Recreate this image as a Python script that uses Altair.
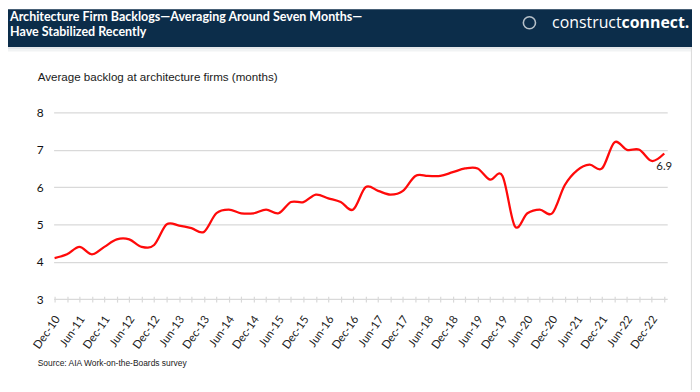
import json
import altair as alt
import pandas as pd

# ---- data ----
quarters = [
    "Dec-10", "Mar-11", "Jun-11", "Sep-11", "Dec-11", "Mar-12", "Jun-12", "Sep-12",
    "Dec-12", "Mar-13", "Jun-13", "Sep-13", "Dec-13", "Mar-14", "Jun-14", "Sep-14",
    "Dec-14", "Mar-15", "Jun-15", "Sep-15", "Dec-15", "Mar-16", "Jun-16", "Sep-16",
    "Dec-16", "Mar-17", "Jun-17", "Sep-17", "Dec-17", "Mar-18", "Jun-18", "Sep-18",
    "Dec-18", "Mar-19", "Jun-19", "Sep-19", "Dec-19", "Mar-20", "Jun-20", "Sep-20",
    "Dec-20", "Mar-21", "Jun-21", "Sep-21", "Dec-21", "Mar-22", "Jun-22", "Sep-22",
    "Dec-22", "Mar-23",
]
backlog = [
    4.1, 4.2, 4.4, 4.2, 4.4, 4.6, 4.6, 4.4,
    4.45, 5.0, 4.97, 4.9, 4.8, 5.3, 5.4, 5.3,
    5.3, 5.4, 5.3, 5.6, 5.6, 5.8, 5.7, 5.6,
    5.4, 6.0, 5.9, 5.8, 5.9, 6.3, 6.3, 6.3,
    6.4, 6.5, 6.5, 6.2, 6.3, 4.95, 5.3, 5.4,
    5.3, 6.05, 6.45, 6.6, 6.5, 7.2, 7.0, 7.0,
    6.7, 6.9,
]
y_ticks = [3, 4, 5, 6, 7, 8]

title_lines = ["Architecture Firm Backlogs\u2014Averaging Around Seven Months\u2014",
               "Have Stabilized Recently"]
axis_title = "Average backlog at architecture firms (months)"
source_text = "Source: AIA Work-on-the-Boards survey"

df = pd.DataFrame({"i": list(range(len(quarters))), "quarter": quarters, "backlog": backlog})
one = alt.Data(values=[{"k": 1}])

NAVY = "#0c2d4a"
GRID = "#d9d9d9"
TITLE_FONT = "Lato"

label_expr = "(datum.value % 2 == 0) ? " + json.dumps(quarters) + "[datum.value] : ''"

x_enc = alt.X(
    "i:Q",
    scale=alt.Scale(domain=[-0.08, 49.24], nice=False, zero=False),
    axis=alt.Axis(
        values=list(range(len(quarters))), tickCount=100, labelExpr=label_expr, title=None,
        grid=False, domain=False, ticks=True, tickColor=GRID, tickWidth=1.2,
        tickSize=6, offset=-3, labelAngle=-55, labelAlign="right",
        labelBaseline="middle", labelPadding=15, labelOffset=3, labelOverlap=False,
        labelFont="Lato", labelFontSize=11.5, labelColor="#222222", labelBound=False,
    ),
)
y_enc = alt.Y(
    "backlog:Q",
    scale=alt.Scale(domain=[3, 8], nice=False, zero=False),
    axis=alt.Axis(
        values=y_ticks, tickCount=20, format="d", title=None, grid=True, gridColor=GRID,
        gridWidth=1.3, domain=False, ticks=False, labelPadding=10.5, labelFont="Lato",
        labelOverlap=False, labelFontSize=12, labelColor="#111111",
    ),
)

line = alt.Chart(df).mark_line(
    color="#ff0a0a", strokeWidth=2.3, interpolate="cardinal"
).encode(x=x_enc, y=y_enc)

last_label = alt.Chart(df).transform_filter(
    alt.datum.i == len(quarters) - 1
).mark_text(
    font="Lato", fontSize=11.5, color="#222222", dy=14, align="center", baseline="middle"
).encode(x="i:Q", y="backlog:Q", text=alt.Text("backlog:Q", format=".1f"))

# header band and decorations (pixel positions relative to plot origin)
band = alt.Chart(one).mark_rect(color=NAVY).encode(
    x=alt.value(-46), x2=alt.value(644), y=alt.value(-104), y2=alt.value(-66)
)
shadow1 = alt.Chart(one).mark_rect(color="#e4e7ea").encode(
    x=alt.value(-46), x2=alt.value(644), y=alt.value(-66), y2=alt.value(-63.5)
)
shadow2 = alt.Chart(one).mark_rect(color="#f1f3f4").encode(
    x=alt.value(-46), x2=alt.value(644), y=alt.value(-63.5), y2=alt.value(-61.5)
)
border = alt.Chart(one).mark_rule(color="#dcdcdc", strokeWidth=1.2).encode(
    x=alt.value(643.5), y=alt.value(-66), y2=alt.value(280)
)

t1 = alt.Chart(one).mark_text(
    text=title_lines[0], font=TITLE_FONT,
    fontWeight="bold", fontSize=12.6, color="white", align="left", baseline="alphabetic"
).encode(x=alt.value(-44), y=alt.value(-91.8))
t2 = alt.Chart(one).mark_text(
    text=title_lines[1], font=TITLE_FONT,
    fontWeight="bold", fontSize=12.6, color="white", align="left", baseline="alphabetic"
).encode(x=alt.value(-44), y=alt.value(-76.8))

logo_icon = alt.Chart(one).mark_point(
    shape="circle", filled=False, color="white", size=150, strokeWidth=1.6
).encode(x=alt.value(480), y=alt.value(-90.5))
logo1 = alt.Chart(one).mark_text(
    text="construct", font="Open Sans", fontSize=16, color="white",
    align="right", baseline="alphabetic"
).encode(x=alt.value(573), y=alt.value(-85))
logo2 = alt.Chart(one).mark_text(
    text="connect.", font="Open Sans", fontWeight="bold", fontSize=16, color="white",
    align="left", baseline="alphabetic"
).encode(x=alt.value(573), y=alt.value(-85))

ytitle = alt.Chart(one).mark_text(
    text=axis_title, font="Liberation Sans", fontSize=11.7, color="#1a1a1a",
    align="left", baseline="alphabetic"
).encode(x=alt.value(-16), y=alt.value(-31.7))

src = alt.Chart(one).mark_text(
    text=source_text, font="Liberation Sans", fontSize=8.5, color="#222222",
    align="left", baseline="alphabetic"
).encode(x=alt.value(-16), y=alt.value(256))

chart = alt.layer(
    band, shadow1, shadow2, border, t1, t2, logo_icon, logo1, logo2, ytitle, src,
    line, last_label,
).properties(
    width=619, height=188.3,
    autosize=alt.AutoSizeParams(type="none"),
    padding={"left": 46, "top": 103.7, "right": 25, "bottom": 90},
    background="white",
).configure_view(strokeWidth=0)

chart.save("out.html", embed_options={"renderer": "svg", "actions": False})
